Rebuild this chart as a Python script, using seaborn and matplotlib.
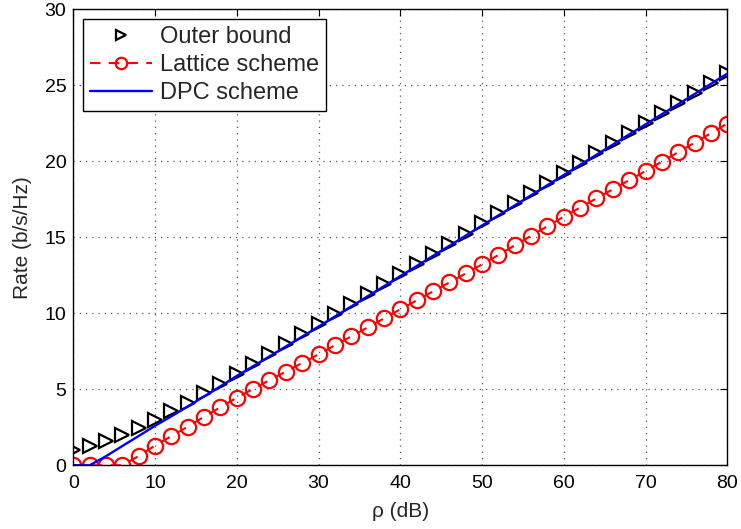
import numpy as np
import matplotlib
matplotlib.use("Agg")
import matplotlib.pyplot as plt
import seaborn as sns

# --- data ---
snr_db = list(range(0, 81, 2))

outer_bound = [1.0, 1.27, 1.6, 1.97, 2.45, 2.98, 3.55, 4.13, 4.75, 5.38,
               6.02, 6.66, 7.31, 7.96, 8.62, 9.28, 9.94, 10.6, 11.27, 11.93,
               12.6, 13.26, 13.92, 14.58, 15.25, 15.92, 16.58, 17.24, 17.9, 18.57,
               19.24, 19.9, 20.56, 21.22, 21.88, 22.55, 23.2, 23.86, 24.52, 25.17,
               25.8]

lattice = [0.0, 0.0, 0.0, 0.0, 0.61, 1.3, 1.92, 2.54, 3.2, 3.82,
           4.45, 5.02, 5.6, 6.17, 6.73, 7.3, 7.89, 8.48, 9.07, 9.66,
           10.26, 10.85, 11.44, 12.03, 12.62, 13.22, 13.84, 14.47, 15.1, 15.73,
           16.36, 16.96, 17.56, 18.16, 18.76, 19.36, 19.98, 20.6, 21.22, 21.85,
           22.48]

dpc = [0.0, 0.0, 0.6, 1.27, 1.93, 2.6, 3.22, 3.87, 4.53, 5.2,
       5.88, 6.52, 7.17, 7.82, 8.47, 9.13, 9.79, 10.45, 11.12, 11.78,
       12.45, 13.11, 13.78, 14.44, 15.11, 15.78, 16.44, 17.1, 17.77, 18.43,
       19.1, 19.77, 20.43, 21.1, 21.77, 22.43, 23.1, 23.76, 24.43, 25.1,
       25.77]

x_ticks = [0, 10, 20, 30, 40, 50, 60, 70, 80]
y_ticks = [0, 5, 10, 15, 20, 25, 30]

sns.set_style("white")
plt.rcParams['font.family'] = ['Liberation Sans', 'DejaVu Sans']
plt.rcParams['xtick.direction'] = 'in'
plt.rcParams['ytick.direction'] = 'in'

fig = plt.figure(figsize=(7.41, 5.29), dpi=100)
ax = fig.add_axes([0.0989, 0.1204, 0.8826, 0.862])

sns.lineplot(x=snr_db, y=outer_bound, ax=ax, color='black', linestyle='none',
             marker='>', markersize=10, markerfacecolor='none', markeredgecolor='black',
             markeredgewidth=1.6, label='Outer bound')
sns.lineplot(x=snr_db, y=lattice, ax=ax, color='red', linestyle=(0, (5, 4)), linewidth=1.5,
             marker='o', markersize=11, markerfacecolor='none', markeredgecolor='red',
             markeredgewidth=1.6, label='Lattice scheme')
sns.lineplot(x=snr_db, y=dpc, ax=ax, color='blue', linewidth=1.7, label='DPC scheme')

ax.set_xlim(0, 80)
ax.set_ylim(0, 30)
ax.set_xticks(x_ticks)
ax.set_yticks(y_ticks)
ax.tick_params(labelsize=14, length=5, width=0.8, top=True, right=True, colors='black')
ax.tick_params(axis='x', pad=7)
ax.tick_params(axis='y', pad=5)
ax.grid(True, linestyle=(0, (1, 4)), color='#555555', linewidth=0.9)
for sp in ax.spines.values():
    sp.set_color('black')
    sp.set_linewidth(1.0)

ax.set_xlabel('ρ (dB)', fontsize=15, labelpad=7)
ax.set_ylabel('Rate (b/s/Hz)', fontsize=15, labelpad=9)

leg = ax.legend(loc='upper left', bbox_to_anchor=(0.015, 0.978), fontsize=17,
                frameon=True, fancybox=False, edgecolor='black', framealpha=1,
                handlelength=2.6, handletextpad=0.35, borderpad=0.3,
                labelspacing=0.25, borderaxespad=0, markerscale=0.75)
leg.get_frame().set_linewidth(1.0)

fig.savefig('out.png', dpi=100)
